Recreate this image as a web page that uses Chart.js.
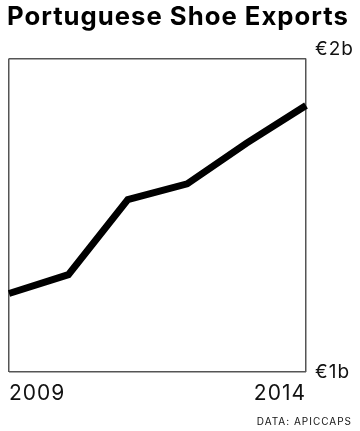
<!DOCTYPE html>
<html>
<head>
<meta charset="utf-8">
<script src="https://cdn.jsdelivr.net/npm/chart.js@4"></script>
<style>
html,body{margin:0;padding:0;background:#fff;}
#wrap{width:360px;height:431px;}
</style>
</head>
<body>
<div id="wrap"><canvas id="c" width="360" height="431"></canvas></div>
<script>
const years = ['2009','2010','2011','2012','2013','2014'];
const exportsBn = [1.25, 1.31, 1.55, 1.60, 1.73, 1.85];
const yTickLabels = {1: '€1b', 2: '€2b'};
const titleText = 'Portuguese Shoe Exports';
const sourceText = 'DATA: APICCAPS';

const FONT = 'Inter, "Liberation Sans", Arial, sans-serif';
const BOX = '#555';

const spacingPlugin = {
  id: 'spacing',
  beforeUpdate(chart) { chart.ctx.letterSpacing = '1px'; },
  beforeDraw(chart) { chart.ctx.letterSpacing = '1px'; }
};

new Chart(document.getElementById('c'), {
  type: 'line',
  data: {
    labels: years,
    datasets: [{
      data: exportsBn,
      borderColor: '#000',
      borderWidth: 7,
      pointRadius: 0,
      tension: 0,
      borderJoinStyle: 'miter',
      borderCapStyle: 'butt',
      fill: false
    }]
  },
  plugins: [spacingPlugin],
  options: {
    responsive: false,
    animation: false,
    devicePixelRatio: 1,
    layout: { padding: { left: 7, right: 8, top: 0, bottom: 3 } },
    plugins: {
      legend: { display: false },
      tooltip: { enabled: false },
      title: {
        display: true,
        text: titleText,
        align: 'start',
        color: '#000',
        font: { family: FONT, size: 25.7, weight: 'bold', lineHeight: 1.15 },
        padding: { top: 2, bottom: 27 }
      },
      subtitle: {
        display: true,
        position: 'bottom',
        text: sourceText,
        align: 'end',
        color: '#111',
        font: { family: FONT, size: 10, weight: 'normal', lineHeight: 1.2 },
        padding: { top: 1, bottom: 0 }
      }
    },
    scales: {
      x: {
        type: 'category',
        offset: false,
        grid: {
          drawTicks: false,
          color: (ctx) => (ctx.index === 0 || ctx.index === years.length - 1) ? BOX : 'rgba(0,0,0,0)',
          lineWidth: 1.5
        },
        border: { display: false },
        ticks: {
          autoSkip: false,
          maxRotation: 0,
          align: 'inner',
          padding: 9,
          color: '#111',
          font: { family: FONT, size: 21, lineHeight: 1.2 },
          callback: function(v, i) {
            return (i === 0 || i === years.length - 1) ? years[i] : '';
          }
        }
      },
      y: {
        position: 'right',
        min: 1,
        max: 2,
        afterFit(scale) { scale.width = 46; },
        grid: { drawTicks: false, color: BOX, lineWidth: 1.5 },
        border: { display: false },
        ticks: {
          stepSize: 1,
          padding: 9,
          color: '#111',
          font: { family: FONT, size: 19, lineHeight: 1.0 },
          callback: function(v) {
            if (v === 2) return [yTickLabels[2], ''];
            if (v === 1) return yTickLabels[1];
            return '';
          }
        }
      }
    }
  }
});
</script>
</body>
</html>
